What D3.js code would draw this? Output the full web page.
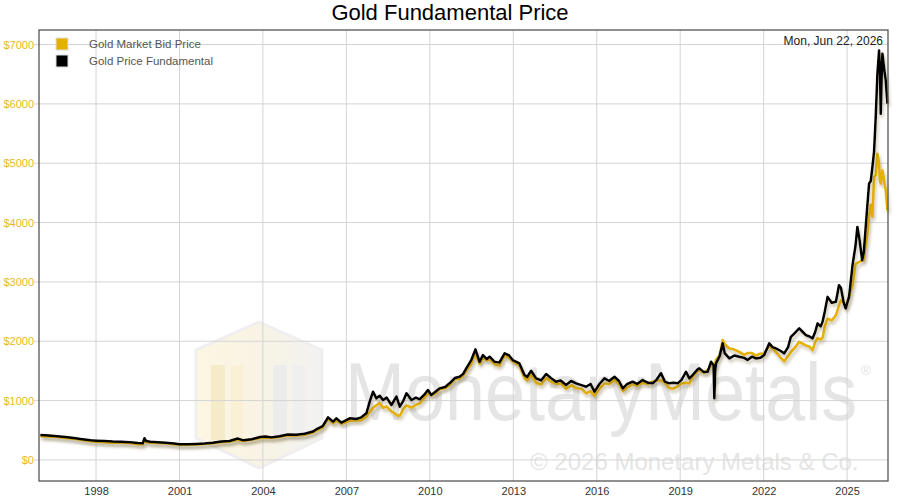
<!DOCTYPE html>
<html>
<head>
<meta charset="utf-8">
<script src="https://cdn.jsdelivr.net/npm/d3@7"></script>
<style>
body { margin: 0; background: #fff; font-family: "Liberation Sans", Arial, sans-serif; }
</style>
</head>
<body>
<script>
const w = 900;
const h = 500;

// dates as fractional years
const dates = [1996.0,1996.3,1996.6,1996.9,1997.2,1997.5,1997.8,1998.0,1998.3,1998.6,1998.9,1999.2,1999.5,1999.68,1999.74,1999.8,1999.95,
  2000.2,2000.5,2000.8,2001.0,2001.3,2001.6,2001.9,2002.2,2002.5,2002.8,2003.1,2003.3,2003.6,2003.9,2004.1,2004.3,2004.6,2004.9,
  2005.2,2005.5,2005.8,2005.95,2006.15,2006.34,2006.52,2006.64,2006.82,2007.12,2007.35,2007.54,2007.72,2007.84,2007.96,
  2008.08,2008.2,2008.32,2008.45,2008.62,2008.8,2008.92,2009.05,2009.16,2009.34,2009.5,2009.63,2009.8,2009.93,
  2010.05,2010.2,2010.35,2010.55,2010.71,2010.9,2011.07,2011.2,2011.31,2011.49,2011.64,2011.72,2011.79,2011.91,
  2012.05,2012.15,2012.33,2012.5,2012.69,2012.85,2012.98,2013.22,2013.4,2013.5,2013.64,2013.82,2014.0,2014.18,2014.35,2014.54,2014.7,2014.9,
  2015.08,2015.26,2015.45,2015.62,2015.78,2015.92,2016.1,2016.28,2016.45,2016.64,2016.8,2016.94,2017.1,2017.29,2017.45,2017.65,2017.85,
  2018.01,2018.15,2018.31,2018.45,2018.61,2018.75,2018.91,2019.05,2019.21,2019.33,2019.45,2019.63,2019.69,2019.85,2019.99,
  2020.11,2020.2,2020.23,2020.26,2020.29,2020.42,2020.53,2020.6,2020.77,2020.95,2021.12,2021.3,2021.42,2021.58,2021.72,2021.88,
  2022.02,2022.2,2022.32,2022.44,2022.6,2022.74,2022.88,2022.98,2023.1,2023.28,2023.4,2023.52,2023.65,2023.76,2023.85,2023.94,
  2024.05,2024.12,2024.2,2024.3,2024.45,2024.6,2024.71,2024.78,2024.88,2024.95,2025.07,2025.2,2025.3,2025.37,2025.45,2025.54,2025.6,2025.66,
  2025.73,2025.79,2025.85,2025.91,2025.97,2026.03,2026.09,2026.15,2026.18,2026.21,2026.24,2026.27,2026.33,2026.39,2026.45];

const fundamental = [420,410,400,385,370,350,330,325,320,310,305,300,285,280,365,320,305,
  300,290,275,265,265,270,275,290,310,320,360,330,350,385,395,380,400,430,
  425,440,480,525,570,718,645,701,628,701,690,718,785,982,1150,
  1038,1080,1010,1050,926,1066,897,1000,1122,1010,1050,1021,1100,1178,
  1094,1150,1206,1230,1291,1380,1402,1450,1543,1683,1863,1750,1654,1767,
  1700,1739,1654,1640,1796,1760,1683,1627,1431,1400,1503,1375,1340,1447,1380,1318,1340,1262,
  1330,1291,1260,1234,1280,1150,1280,1375,1330,1402,1330,1206,1280,1318,1280,1346,1300,
  1291,1350,1460,1320,1291,1300,1291,1350,1486,1375,1431,1526,1543,1480,1486,
  1654,1600,1038,1500,1627,1750,1964,1800,1711,1760,1739,1720,1683,1740,1711,1720,
  1767,1964,1900,1880,1840,1796,1900,2075,2130,2216,2160,2104,2080,2048,2150,2300,
  2250,2328,2500,2748,2650,2664,2945,2900,2650,2553,2748,3300,3600,3927,3700,3366,3500,3871,
  4300,4657,4700,4936,5200,5778,6508,6900,6600,5835,6400,6845,6600,6395,6003];

const bidPrice = [400,395,385,370,355,335,315,305,300,290,290,285,265,260,320,300,290,
  285,280,265,255,255,260,270,280,300,310,340,320,345,370,380,370,385,415,
  410,425,460,500,550,690,620,660,610,660,665,670,730,810,880,
  920,960,880,900,820,760,740,860,920,880,930,950,1050,1120,
  1090,1120,1190,1210,1260,1360,1370,1420,1500,1620,1800,1700,1620,1720,
  1680,1700,1610,1590,1760,1720,1660,1590,1380,1340,1440,1300,1270,1380,1320,1280,1290,1200,
  1260,1210,1200,1120,1160,1080,1200,1290,1280,1350,1280,1160,1220,1280,1250,1300,1280,
  1320,1340,1340,1300,1210,1200,1240,1290,1300,1290,1400,1500,1510,1470,1520,
  1580,1600,1560,1620,1690,1760,2020,1950,1880,1860,1820,1770,1800,1800,1760,1790,
  1800,1920,1880,1820,1730,1660,1750,1820,1880,1990,1960,1930,1910,1850,1980,2050,
  2030,2060,2250,2380,2350,2440,2600,2690,2650,2580,2750,2950,3300,3320,3340,3366,3370,3600,
  3800,4095,4300,4100,4768,4800,5161,5000,4700,4657,4800,4880,4700,4544,4207];

const yTicks = [0,1000,2000,3000,4000,5000,6000,7000];
const xTickYears = [1998,2001,2004,2007,2010,2013,2016,2019,2022,2025];
const seriesNames = ['Gold Market Bid Price','Gold Price Fundamental'];
const seriesColors = ['#e6b000','#000000'];

function toDate(yr) {
  const y0 = Math.floor(yr);
  return new Date(Date.UTC(y0, 0, 1) + (yr - y0) * 365.25 * 864e5);
}

const svg = d3.select('body').append('svg').attr('width', w).attr('height', h);

const x = d3.scaleUtc().domain([new Date(Date.UTC(1995, 11, 14)), new Date(Date.UTC(2026, 5, 22))]).range([39, 888]);
const y = d3.scaleLinear().domain([-355, 7245]).range([481, 30]);

const defs = svg.append('defs');
const f = defs.append('filter').attr('id', 'shadow').attr('x', '-5%').attr('y', '-5%').attr('width', '110%').attr('height', '120%');
f.append('feDropShadow').attr('dx', 1.5).attr('dy', 3).attr('stdDeviation', 1.8).attr('flood-color', '#7a6a40').attr('flood-opacity', 0.4);

const lg = defs.append('linearGradient').attr('id', 'hexfill').attr('x1', 0).attr('x2', 1);
lg.append('stop').attr('offset', '0%').attr('stop-color', '#fcf6e2');
lg.append('stop').attr('offset', '50%').attr('stop-color', '#f8f3e4');
lg.append('stop').attr('offset', '100%').attr('stop-color', '#f2f2f2');

// watermark
const wm = svg.append('g').attr('class', 'watermark');
const hx = 259, hy = 395;
wm.append('polygon')
  .attr('points', [[hx, hy - 73], [hx + 63, hy - 45], [hx + 63, hy + 43], [hx, hy + 73], [hx - 63, hy + 43], [hx - 63, hy - 45]].map(p => p.join(',')).join(' '))
  .attr('fill', 'url(#hexfill)').attr('stroke', '#efefef').attr('stroke-width', 3);
[[-48, 14, '#f6ebc8'], [-28, 12, '#f9f0d6'], [14, 14, '#ececec'], [34, 12, '#efefef']].forEach(b => {
  wm.append('rect').attr('x', hx + b[0]).attr('y', hy - 30).attr('width', b[1]).attr('height', 75).attr('fill', b[2]);
});
wm.append('text').attr('transform', 'translate(345,420) scale(1,1.12)')
  .style('font-size', '72px').style('fill', '#e5e5e5').text('MonetaryMetals');
wm.append('text').attr('x', 861).attr('y', 375).style('font-size', '13px').style('fill', '#e3e3e3').text('®');
wm.append('text').attr('x', 530).attr('y', 470).style('font-size', '24px').style('fill', '#e5e5e5').text('© 2026 Monetary Metals & Co.');

// grid
svg.append('g').selectAll('line').data(yTicks).enter().append('line')
  .attr('x1', 34).attr('x2', 888).attr('y1', d => y(d)).attr('y2', d => y(d))
  .attr('stroke', '#d4d4d4').attr('stroke-width', 1);
svg.append('g').selectAll('line').data(xTickYears).enter().append('line')
  .attr('x1', d => x(toDate(d))).attr('x2', d => x(toDate(d))).attr('y1', 30).attr('y2', 481)
  .attr('stroke', '#d4d4d4').attr('stroke-width', 1);

// lines
const line = d3.line().x((d, i) => x(toDate(dates[i]))).y(d => y(d)).curve(d3.curveLinear);
svg.append('path').datum(bidPrice).attr('d', line).attr('fill', 'none')
  .attr('stroke', seriesColors[0]).attr('stroke-width', 2.5).attr('stroke-linejoin', 'round').attr('filter', 'url(#shadow)');
svg.append('path').datum(fundamental).attr('d', line).attr('fill', 'none')
  .attr('stroke', seriesColors[1]).attr('stroke-width', 2.5).attr('stroke-linejoin', 'round').attr('filter', 'url(#shadow)');

// border
svg.append('rect').attr('x', 39).attr('y', 30).attr('width', 849).attr('height', 451)
  .attr('fill', 'none').attr('stroke', '#555').attr('stroke-width', 1.3);

// axes
const xAxis = svg.append('g').attr('transform', 'translate(0,481)')
  .call(d3.axisBottom(x).tickValues(xTickYears.map(toDate)).tickFormat(d3.utcFormat('%Y')).tickSize(0).tickPadding(6));
xAxis.select('.domain').remove();
xAxis.selectAll('text').style('font-size', '11px').style('fill', '#333').style('font-family', '"Liberation Sans", Arial, sans-serif');

const yAxis = svg.append('g').attr('transform', 'translate(39,0)')
  .call(d3.axisLeft(y).tickValues(yTicks).tickFormat(d => '$' + d).tickSize(0).tickPadding(5));
yAxis.select('.domain').remove();
yAxis.selectAll('text').style('font-size', '11px').style('fill', '#e8b923').style('font-family', '"Liberation Sans", Arial, sans-serif');

// title
svg.append('text').attr('x', 450).attr('y', 20).attr('text-anchor', 'middle')
  .style('font-size', '22px').style('fill', '#000').text('Gold Fundamental Price');

svg.append('text').attr('x', 883).attr('y', 45).attr('text-anchor', 'end')
  .style('font-size', '12px').style('fill', '#222').text('Mon, Jun 22, 2026');

// legend
const legend = svg.append('g').selectAll('g').data(seriesNames).enter().append('g')
  .attr('transform', (d, i) => 'translate(56,' + (38 + i * 17) + ')');
legend.append('rect').attr('width', 12).attr('height', 12)
  .attr('fill', (d, i) => seriesColors[i]).attr('stroke', '#dddddd').attr('stroke-width', 1);
legend.append('text').attr('x', 33).attr('y', 10).style('font-size', '11.5px').style('fill', '#555').text(d => d);
</script>
</body>
</html>
